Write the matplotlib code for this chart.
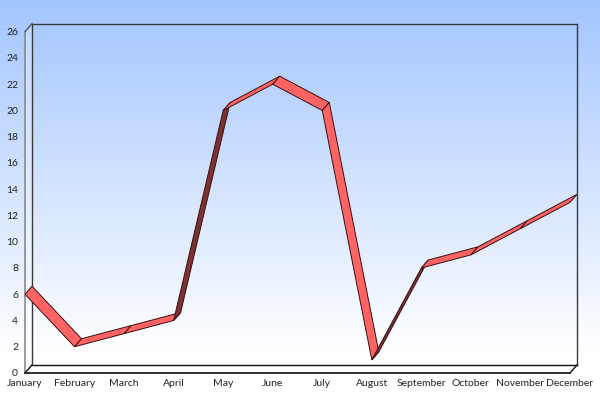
import numpy as np
import matplotlib
matplotlib.use("Agg")
import matplotlib.pyplot as plt
from matplotlib.patches import Polygon
from matplotlib.colors import LinearSegmentedColormap

months = ["January", "February", "March", "April", "May", "June", "July",
          "August", "September", "October", "November", "December"]
values = [6, 2, 3, 4, 20, 22, 20, 1, 8, 9, 11, 13]
y_ticks = list(range(0, 27, 2))

plt.rcParams['font.family'] = ['Lato', 'DejaVu Sans']

W, H = 600, 400
fig = plt.figure(figsize=(6, 4), dpi=100)

# background gradient
bg = fig.add_axes([0, 0, 1, 1], zorder=0)
cmap = LinearSegmentedColormap.from_list(
    "bg", [(0.0, "#FFFFFF"), (0.12, "#FFFFFF"), (1.0, "#A3C5FF")])
grad = np.linspace(0, 1, 256).reshape(-1, 1)
bg.imshow(grad, aspect='auto', cmap=cmap, origin='lower', extent=[0, 1, 0, 1],
          vmin=0.0, vmax=1.0)
bg.set_axis_off()

# front plane in pixels
left_px, right_px, top_px, bottom_px = 25, 570, 31.7, 373
DX, DY = 7, 8  # depth offset in pixels (right, up)

ax = fig.add_axes([left_px / W, (H - bottom_px) / H, (right_px - left_px) / W,
                   (bottom_px - top_px) / H], zorder=1)
ax.patch.set_alpha(0)
xs = np.arange(len(months))
ax.set_xlim(0, len(months) - 1)
ax.set_ylim(0, 26)
for s in ax.spines.values():
    s.set_visible(False)

ax.set_yticks(y_ticks)
ax.set_yticklabels([str(t) for t in y_ticks])
ax.set_xticks(xs)
ax.set_xticklabels(months)
ax.tick_params(axis='both', length=0, labelsize=7.5, colors='#222222')
ax.tick_params(axis='y', pad=5)
ax.tick_params(axis='x', pad=4)

fig.canvas.draw()
inv = ax.transData.inverted()
o0 = inv.transform(ax.transData.transform((0, 0)))
o1 = inv.transform(ax.transData.transform((0, 0)) + np.array([DX, DY]))
ddx, ddy = o1 - o0

x0, x1 = 0, len(months) - 1
y0, y1 = 0, 26

# left wall
ax.add_patch(Polygon([(x0, y0), (x0, y1), (x0 + ddx, y1 + ddy), (x0 + ddx, y0 + ddy)],
                     closed=True, facecolor='white', alpha=0.3, edgecolor='none',
                     clip_on=False, zorder=1))
# floor
ax.add_patch(Polygon([(x0, y0), (x1, y0), (x1 + ddx, y0 + ddy), (x0 + ddx, y0 + ddy)],
                     closed=True, facecolor='white', edgecolor='none',
                     clip_on=False, zorder=1))
# back wall edges
ax.plot([x0 + ddx, x0 + ddx, x1 + ddx, x1 + ddx], [y0 + ddy, y1 + ddy, y1 + ddy, y0 + ddy],
        color='#3a3a3a', lw=1.0, clip_on=False, zorder=2)
ax.plot([x0 + ddx, x1 + ddx], [y0 + ddy, y0 + ddy], color='#111111', lw=1.0,
        clip_on=False, zorder=2)
# front left edge and diagonals
ax.plot([x0, x0], [y0, y1], color='#8a8a8a', lw=1.2, clip_on=False, zorder=2)
ax.plot([x0, x0 + ddx], [y1, y1 + ddy], color='#555555', lw=1.0, clip_on=False, zorder=2)
ax.plot([x0, x0 + ddx], [y0, y0 + ddy], color='#111111', lw=1.0, clip_on=False, zorder=2)
ax.plot([x1, x1 + ddx], [y0, y0 + ddy], color='#111111', lw=1.0, clip_on=False, zorder=2)
ax.plot([x0, x1], [y0, y0], color='#111111', lw=1.2, clip_on=False, zorder=2)

# ribbon
light, dark = '#FF6464', '#7A3232'
for i in range(len(values) - 1):
    p0 = (xs[i], values[i])
    p1 = (xs[i + 1], values[i + 1])
    d0 = ax.transData.transform(p0)
    d1 = ax.transData.transform(p1)
    seg = d1 - d0
    cross = seg[0] * DY - seg[1] * DX
    col = light if cross > 0 else dark
    poly = [p0, p1, (p1[0] + ddx, p1[1] + ddy), (p0[0] + ddx, p0[1] + ddy)]
    ax.add_patch(Polygon(poly, closed=True, facecolor=col, edgecolor='#3a0e0e',
                         lw=0.7, clip_on=False, zorder=3))

fig.savefig("out.png", dpi=100)
